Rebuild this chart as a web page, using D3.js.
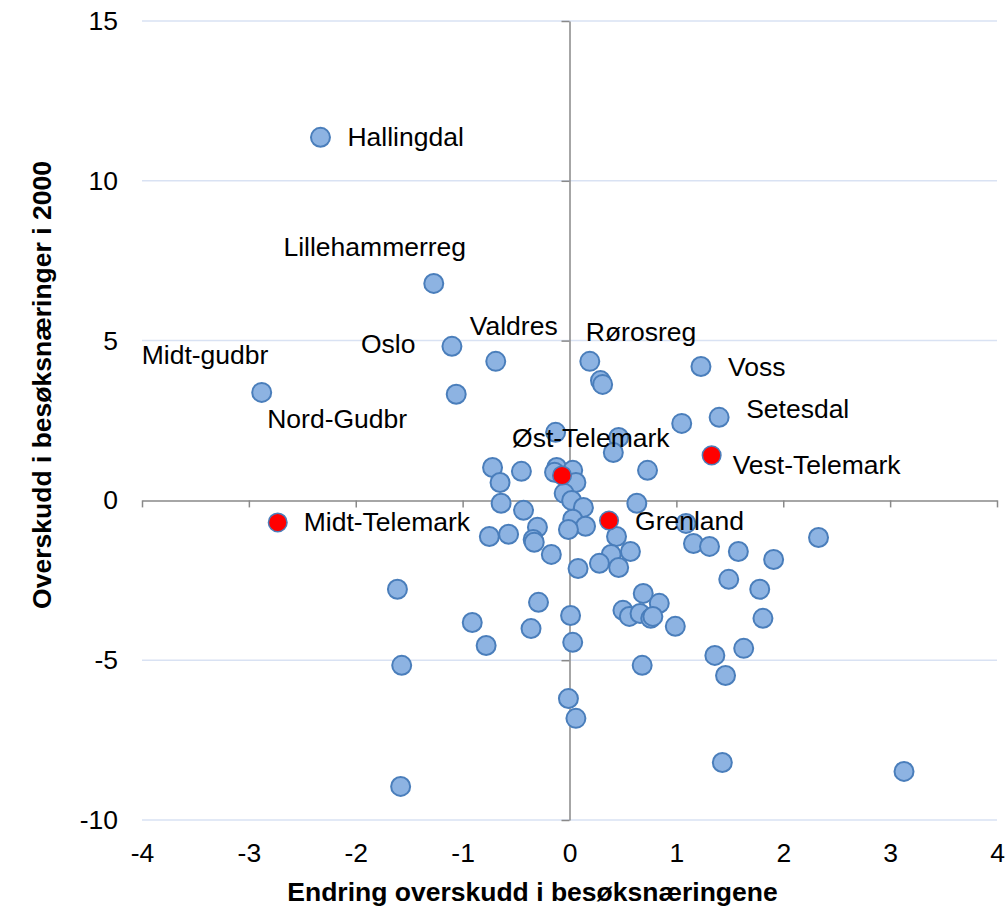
<!DOCTYPE html>
<html>
<head>
<meta charset="utf-8">
<script src="https://cdn.jsdelivr.net/npm/d3@7"></script>
<style>
    body { margin: 0; background: #fff; }
    text { font-family: "Liberation Sans", Arial, sans-serif; }
</style>
</head>
<body>
<div class="canvas"></div>
<script>
//Data - blue series (regions)
const blueNames = [
    'Hallingdal', 'Lillehammerreg', 'Oslo', 'Valdres', 'Midt-gudbr', 'Nord-Gudbr', 'Rørosreg', 'Voss', 'Setesdal',
    '', '', '', '', '', '', '', '', '', '',
    '', '', '', '', '', '', '', '', '', '',
    '', '', '', '', '', '', '', '', '', '',
    '', '', '', '', '', '', '', '', '', '',
    '', '', '', '', '', '', '', '', '', '',
    '', '', '', '', '', '', '', '', '', '',
    '', '', '', '', '', '', '', '', ''
];
const blueX = [
    -2.33, -1.27, -1.10, -0.69, -2.88, -1.06, 0.19, 1.23, 1.40,
    0.29, 0.31, 1.05, -0.13, 0.46, 0.41, 0.73, -0.72, -0.45, -0.65,
    -0.12, 0.03, -0.14, 0.06, -0.64, -0.05, 0.02, 0.13, -0.43, 0.63,
    0.03, 0.15, -0.01, -0.30, -0.75, -0.57, -0.34, -0.33, 0.44, 0.57,
    0.39, 0.28, 0.46, -0.17, 0.08, 1.09, 1.16, 1.31, 1.58, 1.91,
    2.33, 1.49, 1.78, 1.81, 0.69, 0.84, 0.50, 0.56, 0.66, 0.76,
    0.78, 0.99, 1.36, 1.63, 1.46, 1.43, 3.13, -1.61, -0.29, 0.01,
    -0.91, -0.36, -0.78, 0.03, -1.57, 0.68, -0.01, 0.06, -1.58
];
const blueY = [
    11.36, 6.79, 4.82, 4.35, 3.38, 3.32, 4.35, 4.19, 2.60,
    3.75, 3.63, 2.41, 2.13, 1.97, 1.50, 0.94, 1.03, 0.91, 0.56,
    1.03, 0.94, 0.88, 0.56, -0.09, 0.22, 0.00, -0.22, -0.31, -0.09,
    -0.59, -0.81, -0.91, -0.84, -1.13, -1.06, -1.22, -1.31, -1.13, -1.60,
    -1.69, -1.97, -2.10, -1.69, -2.13, -0.72, -1.35, -1.44, -1.60, -1.85,
    -1.16, -2.47, -2.78, -3.69, -2.91, -3.22, -3.44, -3.63, -3.54, -3.69,
    -3.63, -3.94, -4.85, -4.63, -5.48, -8.20, -8.48, -2.78, -3.19, -3.60,
    -3.82, -4.01, -4.54, -4.44, -5.16, -5.16, -6.20, -6.82, -8.95
];

//Data - red series (Telemark)
const redNames = ['Øst-Telemark', 'Vest-Telemark', 'Grenland', 'Midt-Telemark'];
const redX = [-0.07, 1.33, 0.37, -2.73];
const redY = [0.78, 1.41, -0.63, -0.69];

//Ticks
const xTicks = [-4, -3, -2, -1, 0, 1, 2, 3, 4];
const yTicks = [-10, -5, 0, 5, 10, 15];

//Label placement (pixel offsets from marker)
const labelPos = {
    'Hallingdal': [27, 9, 'start'],
    'Lillehammerreg': [-59, -27, 'middle'],
    'Oslo': [-91, 7, 'start'],
    'Valdres': [-26, -26, 'start'],
    'Midt-gudbr': [-120, -28, 'start'],
    'Nord-Gudbr': [-189, 34, 'start'],
    'Rørosreg': [-4, -20, 'start'],
    'Voss': [27, 10, 'start'],
    'Setesdal': [27, 1, 'start'],
    'Øst-Telemark': [-50, -28, 'start'],
    'Vest-Telemark': [21, 19, 'start'],
    'Grenland': [26, 9, 'start'],
    'Midt-Telemark': [26, 9, 'start']
};

//Canvas
const
    width = 1005,
    height = 917,
    plotL = 142,
    plotR = 997,
    plotT = 21,
    plotB = 820,
    fontSize = 26.5;

const svg = d3.select('.canvas')
    .append('svg')
    .attr('width', width)
    .attr('height', height)
    ;

const xScale = d3.scaleLinear().domain([-4, 4]).range([plotL, plotR]);
const yScale = d3.scaleLinear().domain([-10, 15]).range([plotB, plotT]);

//Gridlines
svg.append('g')
    .selectAll('line')
    .data(yTicks.filter(d => d !== 0))
    .enter()
    .append('line')
    .attr('x1', plotL)
    .attr('x2', plotR)
    .attr('y1', d => yScale(d))
    .attr('y2', d => yScale(d))
    .attr('stroke', '#d9e2f3')
    .attr('stroke-width', 1.5)
    ;

//X-Axis through zero
svg.append('g')
    .attr('transform', `translate(0, ${yScale(0)})`)
    .call(d3.axisBottom(xScale).tickValues(xTicks).tickSize(7).tickSizeOuter(0).tickFormat(''))
    .call(g => g.selectAll('path, line').attr('stroke', '#898989').attr('stroke-width', 1.5))
    ;

//Y-Axis through zero
svg.append('g')
    .attr('transform', `translate(${xScale(0)}, 0)`)
    .call(d3.axisLeft(yScale).tickValues(yTicks).tickSize(8).tickSizeOuter(0).tickFormat(''))
    .call(g => g.selectAll('path, line').attr('stroke', '#898989').attr('stroke-width', 1.5))
    ;

//Tick labels
svg.append('g')
    .attr('transform', `translate(0, ${plotB})`)
    .call(d3.axisBottom(xScale).tickValues(xTicks).tickSize(0).tickPadding(23).tickFormat(d => String(d)))
    .call(g => g.select('.domain').remove())
    .call(g => g.selectAll('text').attr('font-size', fontSize).attr('fill', '#000')
        .attr('font-family', '"Liberation Sans", Arial, sans-serif'))
    ;

svg.append('g')
    .attr('transform', `translate(${plotL}, 0)`)
    .call(d3.axisLeft(yScale).tickValues(yTicks).tickSize(0).tickPadding(24).tickFormat(d => String(d)))
    .call(g => g.select('.domain').remove())
    .call(g => g.selectAll('text').attr('font-size', fontSize).attr('fill', '#000')
        .attr('font-family', '"Liberation Sans", Arial, sans-serif'))
    ;

//Axis titles
svg.append('text')
    .attr('x', (plotL + plotR) / 2 - 37)
    .attr('y', 901)
    .attr('text-anchor', 'middle')
    .attr('font-size', fontSize)
    .attr('font-weight', 'bold')
    .text('Endring overskudd i besøksnæringene')
    ;

svg.append('text')
    .attr('transform', `translate(51, 385) rotate(-90)`)
    .attr('text-anchor', 'middle')
    .attr('font-size', fontSize)
    .attr('font-weight', 'bold')
    .text('Overskudd i besøksnæringer i 2000')
    ;

//Points
const blueData = blueX.map((x, i) => ({ x, y: blueY[i], name: blueNames[i] }));
const redData = redX.map((x, i) => ({ x, y: redY[i], name: redNames[i] }));

svg.append('g')
    .selectAll('circle')
    .data(blueData)
    .enter()
    .append('circle')
    .attr('cx', d => xScale(d.x))
    .attr('cy', d => yScale(d.y))
    .attr('r', 9.5)
    .attr('fill', '#8db3e2')
    .attr('stroke', '#4a7ebb')
    .attr('stroke-width', 2)
    ;

svg.append('g')
    .selectAll('circle')
    .data(redData)
    .enter()
    .append('circle')
    .attr('cx', d => xScale(d.x))
    .attr('cy', d => yScale(d.y))
    .attr('r', 9.3)
    .attr('fill', '#ff0000')
    .attr('stroke', '#4a7ebb')
    .attr('stroke-width', 1.5)
    ;

//Data labels
svg.append('g')
    .selectAll('text')
    .data(blueData.concat(redData).filter(d => d.name))
    .enter()
    .append('text')
    .attr('x', d => xScale(d.x) + labelPos[d.name][0])
    .attr('y', d => yScale(d.y) + labelPos[d.name][1])
    .attr('text-anchor', d => labelPos[d.name][2])
    .attr('font-size', fontSize)
    .attr('fill', '#000')
    .text(d => d.name)
    ;
</script>
</body>
</html>
